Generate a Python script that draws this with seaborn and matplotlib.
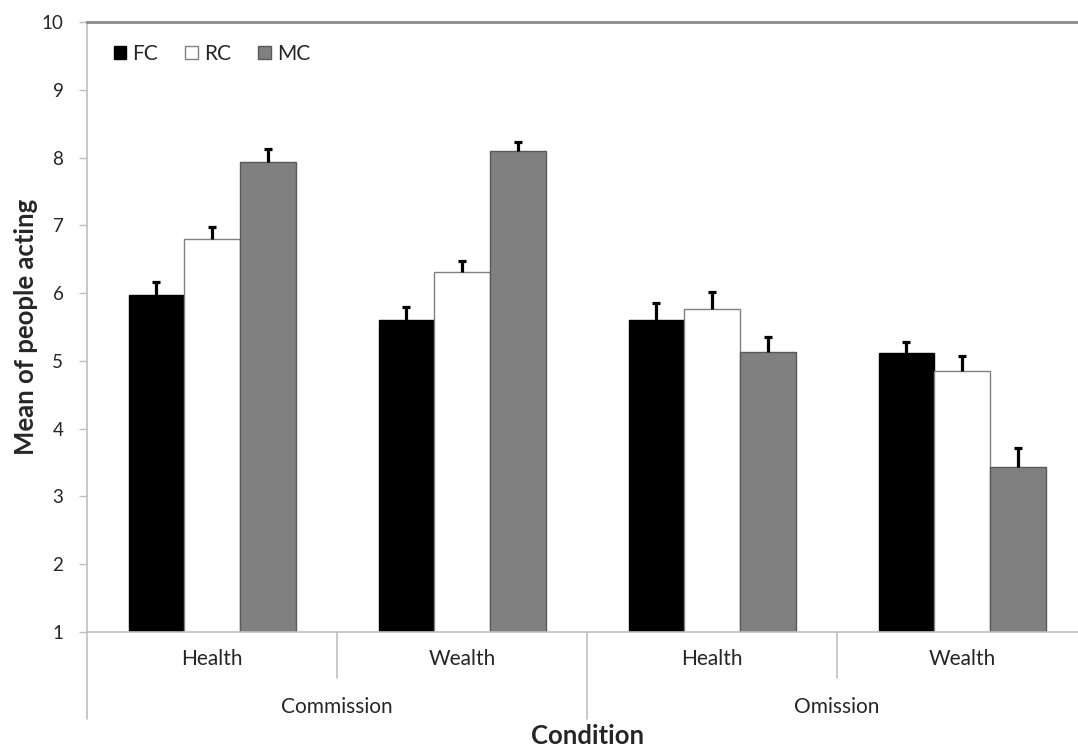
import numpy as np
import pandas as pd
import matplotlib
matplotlib.use("Agg")
import matplotlib.pyplot as plt
import matplotlib.transforms as mtransforms
from matplotlib.patches import Patch
import seaborn as sns

# data
outer = ["Commission", "Commission", "Omission", "Omission"]
inner = ["Health", "Wealth", "Health", "Wealth"]
groups = ["FC", "RC", "MC"]
fc_mean = [5.97, 5.60, 5.61, 5.12]
rc_mean = [6.80, 6.31, 5.76, 4.85]
mc_mean = [7.93, 8.10, 5.13, 3.44]
fc_err = [0.20, 0.19, 0.24, 0.16]
rc_err = [0.18, 0.16, 0.25, 0.22]
mc_err = [0.19, 0.13, 0.22, 0.27]

conds = [o + " " + i for o, i in zip(outer, inner)]
df = pd.DataFrame({
    "cond": conds * 3,
    "group": np.repeat(groups, 4),
    "mean": fc_mean + rc_mean + mc_mean,
    "err": fc_err + rc_err + mc_err,
})

sns.set_style("white")
plt.rcParams['font.family'] = ['Lato', 'DejaVu Sans']

fig = plt.figure(figsize=(10.78, 7.49), dpi=100)
ax = fig.add_axes([87 / 1078, 1 - 632 / 749, 1000 / 1078, 610 / 749])

palette = {"FC": "black", "RC": "white", "MC": "#808080"}
edges = {"FC": "black", "RC": "#808080", "MC": "#595959"}
sns.barplot(data=df, x="cond", y="mean", hue="group", hue_order=groups,
            order=conds, palette=palette, width=0.668, gap=0,
            legend=False, errorbar=None, ax=ax, zorder=2)

for cont, g in zip(ax.containers, groups):
    sub = df[df["group"] == g].set_index("cond").loc[conds]
    xs, ys = [], []
    for bar in cont:
        bar.set_edgecolor(edges[g])
        bar.set_linewidth(1)
        xs.append(bar.get_x() + bar.get_width() / 2)
        ys.append(bar.get_height())
    eb = ax.errorbar(xs, ys, yerr=[np.zeros(len(xs)), sub["err"].values], fmt="none",
                     ecolor="black", elinewidth=2.3, capsize=2.8, capthick=2.3, zorder=3)
    eb[1][0].set_visible(False)  # only the upper cap

ax.set_ylim(1, 10)
ax.set_xlim(-0.5, 3.5)
ax.set_yticks(range(1, 11))
ax.set_xticks(range(4))
ax.set_xticklabels(inner)
ax.set_xlabel("")
ax.set_ylabel("")

ax.tick_params(axis="y", length=6, color="#bfbfbf", width=1, pad=11, labelsize=13.5,
               labelcolor="#262626", left=True)
ax.tick_params(axis="x", length=0, pad=12, labelsize=15, labelcolor="#262626")

for s in ["left", "bottom"]:
    ax.spines[s].set_color("#bfbfbf")
    ax.spines[s].set_linewidth(1.2)
ax.spines["top"].set_color("#8c8c8c")
ax.spines["top"].set_linewidth(2)
ax.spines["right"].set_visible(False)

# category dividers below the axis
trans = mtransforms.blended_transform_factory(ax.transData, ax.transAxes)
for x in [0.5, 2.5]:
    ax.plot([x, x], [0, -0.075], color="#bfbfbf", lw=1.2, transform=trans, clip_on=False)
for x in [-0.5, 1.5, 3.5]:
    ax.plot([x, x], [0, -0.143], color="#bfbfbf", lw=1.2, transform=trans, clip_on=False)
for name, pos in [("Commission", 0.5), ("Omission", 2.5)]:
    ax.text(pos, -0.123, name, transform=trans, ha="center", va="center",
            fontsize=15, color="#262626")

fig.text(588 / 1078, 1.5 / 749, "Condition", ha="center", va="bottom",
         fontsize=18.5, fontweight="bold")
fig.text(26 / 1078, 1 - 327 / 749, "Mean of people acting", ha="center", va="center",
         rotation=90, fontsize=18.5, fontweight="bold")

handles = [Patch(facecolor=palette[g], edgecolor=edges[g]) for g in groups]
ax.legend(handles, groups, loc="upper left", bbox_to_anchor=(0.008, 0.995), ncol=3,
          frameon=False, fontsize=15, handlelength=0.6, handleheight=0.6,
          handletextpad=0.3, columnspacing=1.3)

fig.savefig("out.png", dpi=100)
